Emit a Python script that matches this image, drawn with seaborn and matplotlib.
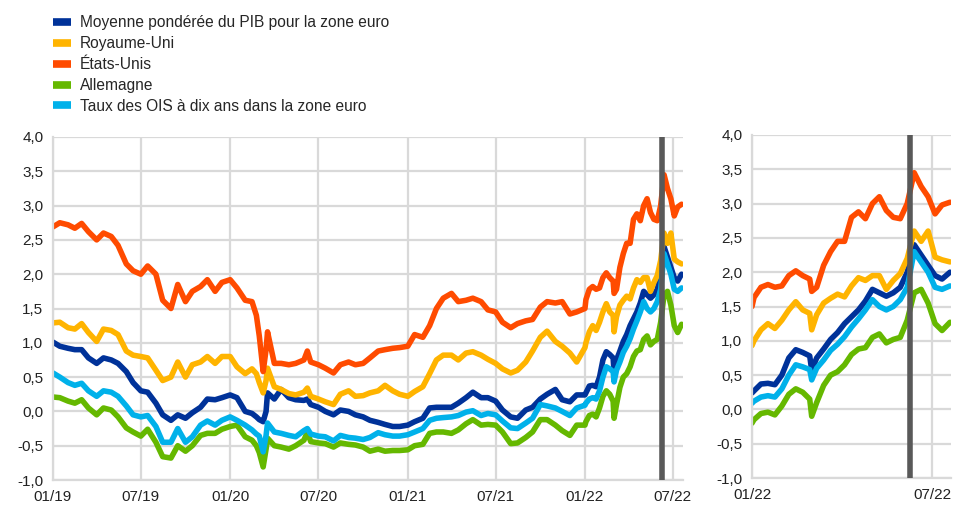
import matplotlib
matplotlib.use("Agg")
import matplotlib.pyplot as plt
import numpy as np
import pandas as pd
import seaborn as sns
from matplotlib.lines import Line2D

# ---------------- data ----------------
dates = (
    ["2019-01-01", "2019-01-15", "2019-02-01", "2019-02-15", "2019-03-01", "2019-03-15",
     "2019-04-01", "2019-04-15", "2019-05-01", "2019-05-15", "2019-06-01", "2019-06-15",
     "2019-07-01", "2019-07-15", "2019-08-01", "2019-08-15", "2019-09-01", "2019-09-15",
     "2019-10-01", "2019-10-15", "2019-11-01", "2019-11-15", "2019-12-01", "2019-12-15",
     "2020-01-01", "2020-01-15", "2020-02-01", "2020-02-15", "2020-02-24", "2020-03-01",
     "2020-03-09", "2020-03-15", "2020-03-18", "2020-04-01", "2020-04-15", "2020-05-01",
     "2020-05-15", "2020-06-01", "2020-06-08", "2020-06-15", "2020-07-01", "2020-07-15",
     "2020-08-01", "2020-08-15", "2020-09-01", "2020-09-15", "2020-10-01", "2020-10-15",
     "2020-11-01", "2020-11-15", "2020-12-01", "2020-12-15",
     "2021-01-01", "2021-01-15", "2021-02-01", "2021-02-15", "2021-03-01", "2021-03-15",
     "2021-04-01", "2021-04-15", "2021-05-01", "2021-05-15", "2021-06-01", "2021-06-15",
     "2021-07-01", "2021-07-15", "2021-08-01", "2021-08-15", "2021-09-01", "2021-09-15",
     "2021-10-01", "2021-10-15", "2021-11-01", "2021-11-15", "2021-12-01", "2021-12-15",
     "2022-01-01", "2022-01-03", "2022-01-10", "2022-01-17", "2022-01-24", "2022-01-31",
     "2022-02-07", "2022-02-14", "2022-02-21", "2022-02-28", "2022-03-02", "2022-03-07",
     "2022-03-14", "2022-03-21", "2022-03-28", "2022-04-04", "2022-04-11", "2022-04-18",
     "2022-04-25", "2022-05-02", "2022-05-09", "2022-05-16", "2022-05-23", "2022-05-30",
     "2022-06-06", "2022-06-13", "2022-06-20", "2022-06-27", "2022-07-04", "2022-07-11",
     "2022-07-19"]
)

ea_gdp = [
    1.01, 0.95, 0.92, 0.90, 0.90, 0.78, 0.70, 0.78, 0.75, 0.70, 0.58, 0.42,
    0.30, 0.28, 0.12, -0.05, -0.13, -0.05, -0.10, -0.02, 0.06, 0.18, 0.17, 0.20,
    0.24, 0.20, 0.00, -0.03, -0.08, -0.12, -0.15, 0.00, 0.27, 0.18, 0.32, 0.20,
    0.17, 0.16, 0.18, 0.10, 0.06, 0.00, -0.05, 0.02, 0.00, -0.05, -0.08, -0.13,
    -0.16, -0.19, -0.22, -0.22,
    -0.20, -0.15, -0.10, 0.05, 0.06, 0.06, 0.06, 0.12, 0.20, 0.28, 0.20, 0.20,
    0.15, 0.02, -0.08, -0.10, 0.02, 0.06, 0.18, 0.25, 0.32, 0.17, 0.14, 0.24,
    0.24, 0.27, 0.37, 0.38, 0.36, 0.50, 0.75, 0.87, 0.83, 0.78, 0.57, 0.75,
    0.88, 1.02, 1.12, 1.25, 1.35, 1.45, 1.58, 1.75, 1.70, 1.65, 1.70, 1.78,
    2.00, 2.40, 2.25, 2.10, 1.95, 1.90, 2.00]

uk = [
    1.29, 1.30, 1.22, 1.20, 1.28, 1.15, 1.02, 1.20, 1.18, 1.12, 0.88, 0.82,
    0.80, 0.78, 0.60, 0.45, 0.50, 0.72, 0.50, 0.68, 0.72, 0.80, 0.70, 0.80,
    0.80, 0.65, 0.55, 0.62, 0.55, 0.42, 0.27, 0.45, 0.63, 0.36, 0.32, 0.26,
    0.24, 0.28, 0.34, 0.22, 0.18, 0.14, 0.10, 0.25, 0.30, 0.22, 0.23, 0.27,
    0.30, 0.38, 0.30, 0.25,
    0.22, 0.29, 0.36, 0.55, 0.75, 0.82, 0.82, 0.75, 0.85, 0.87, 0.82, 0.76,
    0.70, 0.62, 0.56, 0.60, 0.72, 0.88, 1.08, 1.17, 1.02, 0.95, 0.85, 0.72,
    0.93, 1.00, 1.16, 1.25, 1.18, 1.30, 1.45, 1.57, 1.45, 1.40, 1.16, 1.38,
    1.55, 1.62, 1.68, 1.64, 1.80, 1.92, 1.88, 1.95, 1.95, 1.75, 1.88, 1.98,
    2.20, 2.60, 2.45, 2.60, 2.22, 2.18, 2.15]

us = [
    2.69, 2.75, 2.72, 2.67, 2.74, 2.62, 2.50, 2.60, 2.55, 2.42, 2.15, 2.05,
    2.00, 2.12, 2.00, 1.62, 1.50, 1.85, 1.60, 1.75, 1.82, 1.92, 1.75, 1.88,
    1.92, 1.80, 1.62, 1.60, 1.40, 1.10, 0.58, 0.90, 1.16, 0.70, 0.70, 0.68,
    0.70, 0.75, 0.88, 0.72, 0.68, 0.63, 0.56, 0.68, 0.72, 0.68, 0.70, 0.78,
    0.88, 0.90, 0.92, 0.93,
    0.95, 1.12, 1.08, 1.25, 1.50, 1.65, 1.72, 1.60, 1.62, 1.65, 1.60, 1.48,
    1.45, 1.30, 1.22, 1.28, 1.32, 1.34, 1.52, 1.60, 1.58, 1.60, 1.42, 1.45,
    1.50, 1.63, 1.78, 1.82, 1.78, 1.80, 1.95, 2.02, 1.95, 1.90, 1.72, 1.78,
    2.10, 2.30, 2.45, 2.45, 2.80, 2.88, 2.78, 3.00, 3.10, 2.90, 2.80, 2.78,
    3.00, 3.45, 3.25, 3.10, 2.85, 2.98, 3.02]

de = [
    0.21, 0.20, 0.15, 0.12, 0.17, 0.05, -0.05, 0.05, 0.02, -0.08, -0.24, -0.30,
    -0.36, -0.26, -0.45, -0.66, -0.68, -0.50, -0.58, -0.50, -0.35, -0.32, -0.32, -0.26,
    -0.22, -0.20, -0.37, -0.42, -0.50, -0.60, -0.81, -0.55, -0.39, -0.50, -0.52, -0.55,
    -0.50, -0.42, -0.30, -0.44, -0.46, -0.47, -0.52, -0.46, -0.48, -0.49, -0.52, -0.58,
    -0.55, -0.58, -0.57, -0.57,
    -0.56, -0.50, -0.48, -0.32, -0.30, -0.30, -0.32, -0.27, -0.18, -0.12, -0.20, -0.19,
    -0.20, -0.30, -0.47, -0.46, -0.38, -0.30, -0.12, -0.12, -0.20, -0.28, -0.35, -0.20,
    -0.20, -0.15, -0.06, -0.04, -0.08, 0.05, 0.22, 0.30, 0.25, 0.15, -0.10, 0.10,
    0.35, 0.50, 0.55, 0.65, 0.80, 0.88, 0.90, 1.05, 1.10, 0.97, 1.02, 1.05,
    1.30, 1.70, 1.75, 1.55, 1.25, 1.15, 1.27]

ois = [
    0.56, 0.50, 0.42, 0.38, 0.41, 0.30, 0.22, 0.30, 0.28, 0.22, 0.08, -0.05,
    -0.08, -0.06, -0.22, -0.45, -0.45, -0.25, -0.45, -0.37, -0.20, -0.14, -0.20, -0.13,
    -0.08, -0.13, -0.20, -0.27, -0.33, -0.36, -0.59, -0.35, -0.17, -0.30, -0.32, -0.35,
    -0.37, -0.28, -0.25, -0.33, -0.36, -0.37, -0.43, -0.35, -0.38, -0.39, -0.41, -0.38,
    -0.31, -0.34, -0.36, -0.36,
    -0.34, -0.30, -0.25, -0.13, -0.10, -0.09, -0.08, -0.06, -0.01, 0.01, -0.06, -0.03,
    -0.05, -0.14, -0.24, -0.25, -0.17, -0.10, 0.10, 0.08, 0.05, 0.00, -0.06, 0.05,
    0.09, 0.12, 0.18, 0.20, 0.18, 0.30, 0.50, 0.65, 0.62, 0.58, 0.43, 0.60,
    0.72, 0.86, 0.95, 1.06, 1.20, 1.32, 1.45, 1.60, 1.50, 1.45, 1.50, 1.60,
    1.78, 2.30, 2.15, 2.00, 1.78, 1.75, 1.80]

series_names = [
    "Moyenne pondérée du PIB pour la zone euro",
    "Royaume-Uni",
    "États-Unis",
    "Allemagne",
    "Taux des OIS à dix ans dans la zone euro",
]
series_colors = ["#003299", "#FFB400", "#FF4B00", "#65B800", "#00B1EA"]
y_ticks = [-1.0, -0.5, 0.0, 0.5, 1.0, 1.5, 2.0, 2.5, 3.0, 3.5, 4.0]
event_date = "2022-06-09"
left_ticks = ["2019-01-01", "2019-07-01", "2020-01-01", "2020-07-01",
              "2021-01-01", "2021-07-01", "2022-01-01", "2022-07-01"]
right_ticks = ["2022-01-01", "2022-07-01"]

# ---------------- build table ----------------
values = [ea_gdp, uk, us, de, ois]
frames = []
for name, vals in zip(series_names, values):
    frames.append(pd.DataFrame({"date": pd.to_datetime(dates), "value": vals, "series": name}))
df = pd.concat(frames, ignore_index=True)
palette = dict(zip(series_names, series_colors))

# ---------------- plotting ----------------
sns.set_style("white")
plt.rcParams["font.family"] = ["Liberation Sans", "DejaVu Sans"]

fig = plt.figure(figsize=(9.56, 5.07), dpi=100)
axL = fig.add_axes([53 / 956, 1 - 480 / 507, (683 - 53) / 956, (480 - 137) / 507])
axR = fig.add_axes([752 / 956, 1 - 478 / 507, (951 - 752) / 956, (478 - 135) / 507])

grid_c = "#d9d9d9"
fmt = lambda v: f"{v:.1f}".replace(".", ",")

for ax, xlim, ticks in [
    (axL, ("2019-01-01", "2022-07-22"), left_ticks),
    (axR, ("2022-01-01", "2022-07-20"), right_ticks),
]:
    sub = df[(df["date"] >= pd.Timestamp(xlim[0]) - pd.Timedelta(days=1)) &
             (df["date"] <= pd.Timestamp(xlim[1]))]
    sns.lineplot(data=sub, x="date", y="value", hue="series", hue_order=series_names,
                 palette=palette, linewidth=4.0, ax=ax, legend=False,
                 solid_capstyle="round", solid_joinstyle="round")
    ax.axvline(pd.Timestamp(event_date), color="#595959", linewidth=4.0, zorder=5)
    ax.set_xlim(pd.Timestamp(xlim[0]), pd.Timestamp(xlim[1]))
    ax.set_ylim(-1.0, 4.0)
    ax.set_yticks(y_ticks)
    ax.set_yticklabels([fmt(v) for v in y_ticks])
    tk = pd.to_datetime(ticks)
    ax.set_xticks(tk)
    ax.set_xticklabels([t.strftime("%m/%y") for t in tk])
    ax.grid(True, color=grid_c, linewidth=1.6)
    ax.set_axisbelow(True)
    for s in ["top", "right"]:
        ax.spines[s].set_visible(False)
    for s in ["left", "bottom"]:
        ax.spines[s].set_color(grid_c)
        ax.spines[s].set_linewidth(1.6)
    ax.tick_params(axis="both", length=0, labelsize=11, colors="#222222", pad=7)
    ax.set_xlabel("")
    ax.set_ylabel("")

# legend
handles = [Line2D([0], [0], color=c, linewidth=5.5, solid_capstyle="butt") for c in series_colors]
fig.legend(handles, series_names, loc="upper left", bbox_to_anchor=(47 / 956, 1 - 9 / 507),
           frameon=False, fontsize=11.2, handlelength=1.15, handletextpad=0.55,
           labelspacing=0.38, borderaxespad=0)

fig.savefig("out.png", dpi=100)
